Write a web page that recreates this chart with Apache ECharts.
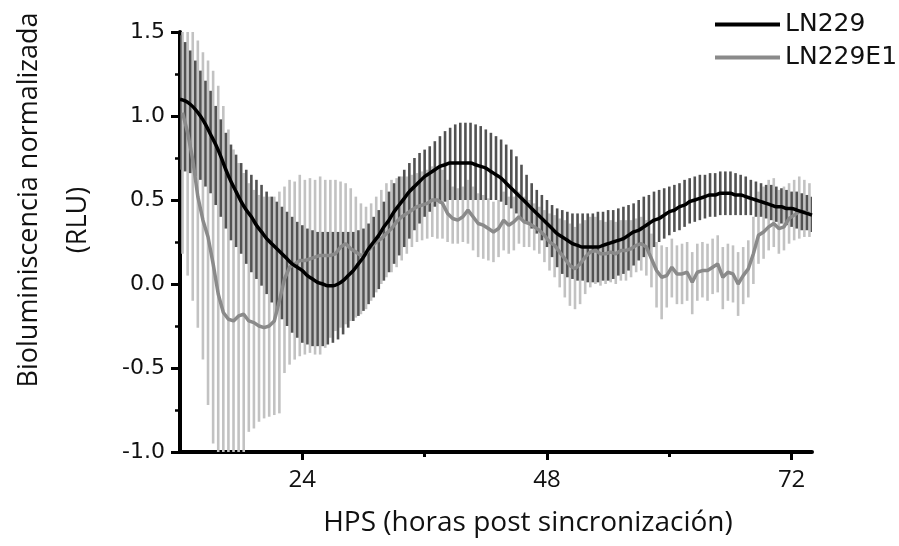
<!DOCTYPE html>
<html><head><meta charset="utf-8">
<script src="https://cdn.jsdelivr.net/npm/echarts@6/dist/echarts.min.js"></script>
<style>html,body{margin:0;padding:0;background:#fff}#c{width:899px;height:546px}</style>
</head><body><div id="c"></div>
<script>
// Time stamps (hours post synchronization)
const hours = [
12,12.5,13,13.5,14,14.5,15,15.5,16,16.5,
17,17.5,18,18.5,19,19.5,20,20.5,21,21.5,
22,22.5,23,23.5,24,24.5,25,25.5,26,26.5,
27,27.5,28,28.5,29,29.5,30,30.5,31,31.5,
32,32.5,33,33.5,34,34.5,35,35.5,36,36.5,
37,37.5,38,38.5,39,39.5,40,40.5,41,41.5,
42,42.5,43,43.5,44,44.5,45,45.5,46,46.5,
47,47.5,48,48.5,49,49.5,50,50.5,51,51.5,
52,52.5,53,53.5,54,54.5,55,55.5,56,56.5,
57,57.5,58,58.5,59,59.5,60,60.5,61,61.5,
62,62.5,63,63.5,64,64.5,65,65.5,66,66.5,
67,67.5,68,68.5,69,69.5,70,70.5,71,71.5,
72,72.5,73,73.5,74];
const e1Hours = [
12.25,12.75,13.25,13.75,14.25,14.75,15.25,15.75,16.25,16.75,
17.25,17.75,18.25,18.75,19.25,19.75,20.25,20.75,21.25,21.75,
22.25,22.75,23.25,23.75,24.25,24.75,25.25,25.75,26.25,26.75,
27.25,27.75,28.25,28.75,29.25,29.75,30.25,30.75,31.25,31.75,
32.25,32.75,33.25,33.75,34.25,34.75,35.25,35.75,36.25,36.75,
37.25,37.75,38.25,38.75,39.25,39.75,40.25,40.75,41.25,41.75,
42.25,42.75,43.25,43.75,44.25,44.75,45.25,45.75,46.25,46.75,
47.25,47.75,48.25,48.75,49.25,49.75,50.25,50.75,51.25,51.75,
52.25,52.75,53.25,53.75,54.25,54.75,55.25,55.75,56.25,56.75,
57.25,57.75,58.25,58.75,59.25,59.75,60.25,60.75,61.25,61.75,
62.25,62.75,63.25,63.75,64.25,64.75,65.25,65.75,66.25,66.75,
67.25,67.75,68.25,68.75,69.25,69.75,70.25,70.75,71.25,71.75,
72.25,72.75,73.25,73.75];

// LN229
const lnMean = [
1.10,1.09,1.07,1.04,1.00,0.95,0.89,0.83,0.76,0.68,
0.61,0.55,0.49,0.44,0.40,0.35,0.31,0.27,0.24,0.21,
0.18,0.15,0.12,0.10,0.08,0.05,0.03,0.01,0.00,-0.01,
-0.01,0.00,0.02,0.05,0.08,0.12,0.16,0.21,0.25,0.29,
0.34,0.38,0.43,0.47,0.51,0.55,0.58,0.61,0.64,0.66,
0.68,0.70,0.71,0.72,0.72,0.72,0.72,0.72,0.71,0.70,
0.69,0.67,0.65,0.63,0.60,0.57,0.54,0.51,0.48,0.45,
0.42,0.39,0.36,0.33,0.30,0.28,0.26,0.24,0.23,0.22,
0.22,0.22,0.22,0.23,0.24,0.25,0.26,0.27,0.29,0.31,
0.32,0.34,0.36,0.38,0.39,0.41,0.43,0.44,0.46,0.47,
0.49,0.50,0.51,0.52,0.53,0.53,0.54,0.54,0.54,0.53,
0.53,0.52,0.51,0.50,0.49,0.48,0.47,0.46,0.46,0.45,
0.45,0.44,0.43,0.42,0.41];
const lnHigh = [
1.48,1.44,1.39,1.33,1.27,1.21,1.15,1.06,0.98,0.90,
0.83,0.77,0.72,0.68,0.65,0.62,0.59,0.55,0.52,0.49,
0.46,0.43,0.40,0.37,0.35,0.33,0.32,0.31,0.31,0.31,
0.31,0.31,0.31,0.31,0.31,0.32,0.33,0.36,0.40,0.44,
0.49,0.55,0.60,0.64,0.68,0.72,0.75,0.78,0.80,0.82,
0.85,0.88,0.91,0.93,0.95,0.96,0.96,0.96,0.95,0.94,
0.92,0.90,0.88,0.86,0.83,0.80,0.76,0.71,0.65,0.60,
0.56,0.53,0.50,0.47,0.45,0.44,0.43,0.42,0.42,0.42,
0.42,0.42,0.43,0.43,0.44,0.44,0.45,0.46,0.47,0.48,
0.50,0.52,0.53,0.55,0.56,0.57,0.58,0.59,0.60,0.62,
0.63,0.64,0.65,0.65,0.66,0.66,0.67,0.67,0.67,0.66,
0.65,0.64,0.62,0.61,0.60,0.59,0.59,0.58,0.57,0.56,
0.55,0.55,0.54,0.53,0.52];
const lnLow = [
0.68,0.67,0.66,0.64,0.62,0.58,0.54,0.47,0.40,0.33,
0.26,0.22,0.18,0.12,0.07,0.03,-0.01,-0.06,-0.11,-0.16,
-0.21,-0.25,-0.29,-0.32,-0.35,-0.36,-0.37,-0.37,-0.37,-0.36,
-0.35,-0.33,-0.30,-0.26,-0.22,-0.19,-0.16,-0.12,-0.08,-0.03,
0.02,0.07,0.12,0.17,0.22,0.27,0.32,0.36,0.40,0.43,
0.46,0.48,0.49,0.50,0.50,0.50,0.50,0.50,0.50,0.50,
0.50,0.50,0.50,0.49,0.47,0.45,0.42,0.39,0.36,0.33,
0.30,0.26,0.22,0.16,0.10,0.06,0.04,0.03,0.02,0.02,
0.01,0.01,0.01,0.02,0.02,0.03,0.05,0.06,0.08,0.11,
0.14,0.16,0.19,0.22,0.25,0.27,0.29,0.31,0.32,0.34,
0.36,0.37,0.38,0.39,0.40,0.40,0.41,0.41,0.41,0.41,
0.41,0.41,0.41,0.40,0.40,0.39,0.38,0.37,0.36,0.35,
0.34,0.33,0.32,0.32,0.31];

// LN229E1
const e1Mean = [
1.02,0.90,0.74,0.52,0.38,0.28,0.12,-0.06,-0.17,-0.21,
-0.22,-0.19,-0.18,-0.22,-0.23,-0.25,-0.26,-0.25,-0.22,-0.10,
0.03,0.10,0.12,0.14,0.14,0.15,0.16,0.17,0.17,0.17,
0.18,0.22,0.24,0.21,0.19,0.17,0.18,0.22,0.25,0.27,
0.30,0.33,0.37,0.40,0.42,0.44,0.46,0.47,0.48,0.50,
0.50,0.48,0.42,0.39,0.38,0.40,0.44,0.40,0.36,0.35,
0.33,0.31,0.33,0.38,0.35,0.37,0.40,0.37,0.36,0.34,
0.32,0.29,0.25,0.23,0.19,0.15,0.11,0.09,0.12,0.16,
0.19,0.20,0.18,0.18,0.19,0.18,0.20,0.20,0.21,0.23,
0.24,0.22,0.15,0.08,0.04,0.05,0.10,0.06,0.06,0.07,
0.01,0.07,0.08,0.08,0.10,0.12,0.04,0.07,0.06,0.00,
0.05,0.09,0.18,0.29,0.31,0.34,0.36,0.33,0.34,0.39,
0.41,0.43,0.43,0.42];
const e1High = [
1.60,1.58,1.52,1.45,1.38,1.33,1.27,1.18,1.06,0.92,
0.80,0.72,0.66,0.60,0.56,0.53,0.52,0.52,0.52,0.55,
0.58,0.62,0.61,0.65,0.62,0.63,0.62,0.64,0.62,0.62,
0.62,0.61,0.60,0.57,0.52,0.48,0.46,0.48,0.52,0.56,
0.60,0.62,0.63,0.64,0.64,0.65,0.66,0.67,0.68,0.70,
0.70,0.68,0.62,0.58,0.57,0.58,0.62,0.58,0.54,0.53,
0.51,0.49,0.50,0.55,0.52,0.52,0.55,0.52,0.50,0.48,
0.46,0.44,0.42,0.41,0.39,0.38,0.36,0.34,0.36,0.38,
0.40,0.40,0.38,0.37,0.38,0.37,0.38,0.38,0.38,0.39,
0.40,0.38,0.30,0.25,0.23,0.22,0.27,0.23,0.24,0.25,
0.19,0.24,0.25,0.24,0.27,0.29,0.22,0.24,0.23,0.19,
0.22,0.26,0.40,0.55,0.58,0.62,0.63,0.56,0.58,0.60,
0.62,0.64,0.62,0.60];
const e1Low = [
0.18,0.05,-0.10,-0.26,-0.45,-0.72,-0.95,-1.10,-1.10,-1.10,
-1.10,-1.10,-1.10,-0.88,-0.86,-0.82,-0.80,-0.79,-0.78,-0.77,
-0.53,-0.48,-0.45,-0.43,-0.42,-0.41,-0.42,-0.42,-0.38,-0.32,
-0.28,-0.26,-0.24,-0.22,-0.20,-0.18,-0.15,-0.10,-0.05,0.00,
0.04,0.07,0.10,0.14,0.18,0.22,0.25,0.26,0.27,0.28,
0.27,0.27,0.25,0.24,0.24,0.25,0.24,0.20,0.16,0.15,
0.14,0.13,0.16,0.20,0.18,0.20,0.24,0.22,0.22,0.20,
0.18,0.13,0.08,0.04,-0.02,-0.08,-0.13,-0.15,-0.12,-0.06,
-0.02,0.00,-0.01,0.00,0.01,0.00,0.02,0.02,0.04,0.07,
0.08,0.05,-0.02,-0.14,-0.21,-0.14,-0.08,-0.12,-0.12,-0.10,
-0.18,-0.10,-0.08,-0.10,-0.06,-0.05,-0.15,-0.10,-0.11,-0.19,
-0.12,-0.08,0.00,0.12,0.15,0.20,0.22,0.18,0.20,0.24,
0.26,0.27,0.28,0.28];

const seriesNames = ['LN229', 'LN229E1'];
const xMajorTicks = [24, 48, 72];
const xMinorTicks = [36, 60];
const yTicks = [-1.0, -0.5, 0.0, 0.5, 1.0, 1.5];
const xTitle = 'HPS (horas post sincronización)';
const yTitle1 = 'Bioluminiscencia normalizada';
const yTitle2 = '(RLU)';

const lnLine = hours.map((h, i) => [h, lnMean[i]]);
const lnBars = hours.map((h, i) => [h, lnLow[i], lnHigh[i]]);
const e1Line = e1Hours.map((h, i) => [h, e1Mean[i]]);
const e1Bars = e1Hours.map((h, i) => [h, e1Low[i], e1High[i]]);

function barRenderer(color, width) {
  return function (params, api) {
    const cs = params.coordSys;
    const x = api.value(0);
    const p1 = api.coord([x, api.value(1)]);
    const p2 = api.coord([x, api.value(2)]);
    const top = cs.y, bot = cs.y + cs.height;
    const y1 = Math.min(Math.max(p1[1], top), bot);
    const y2 = Math.min(Math.max(p2[1], top), bot);
    return { type: 'line', shape: { x1: p1[0], y1: y1, x2: p2[0], y2: y2 },
             style: { stroke: color, lineWidth: width } };
  };
}

const chart = echarts.init(document.getElementById('c'));
chart.setOption({
  animation: false,
  backgroundColor: '#fff',
  grid: { left: 180, right: 87, top: 32, bottom: 94 },
  legend: {
    orient: 'vertical', left: 710, top: 7, itemWidth: 65, itemHeight: 4, itemGap: 8,
    icon: 'rect', data: seriesNames,
    textStyle: { fontFamily: 'DejaVu Sans', fontSize: 25, color: '#111', lineHeight: 25 }
  },
  xAxis: [{
    type: 'value', min: 12, max: 74,
    axisLine: { show: true, onZero: false, lineStyle: { color: '#000', width: 4 } },
    axisTick: { show: true, customValues: xMajorTicks, length: 8, lineStyle: { color: '#000', width: 3 } },
    axisLabel: { customValues: xMajorTicks, fontFamily: 'Open Sans', fontSize: 24, color: '#111', margin: 16 },
    splitLine: { show: false }
  }, {
    type: 'value', min: 12, max: 74, position: 'bottom', offset: 0,
    axisLine: { show: false, onZero: false },
    axisTick: { show: true, customValues: xMinorTicks, length: 5, lineStyle: { color: '#000', width: 3 } },
    axisLabel: { show: false },
    splitLine: { show: false }
  }],
  yAxis: {
    type: 'value', min: -1, max: 1.5, interval: 0.5,
    axisLine: { show: true, onZero: false, lineStyle: { color: '#000', width: 4 } },
    axisTick: { show: true, length: 9, lineStyle: { color: '#000', width: 3 } },
    minorTick: { show: true, splitNumber: 2, length: 5, lineStyle: { color: '#000', width: 2.5 } },
    axisLabel: { customValues: yTicks, formatter: v => Number(v).toFixed(1), fontFamily: 'DejaVu Sans', fontSize: 22, color: '#111', margin: 15 },
    splitLine: { show: false }
  },
  graphic: [
    { type: 'text', x: 29, y: 200, rotation: Math.PI / 2,
      style: { text: yTitle1, fontFamily: 'Open Sans', fontSize: 27, fill: '#111', align: 'center', verticalAlign: 'middle' } },
    { type: 'text', x: 78, y: 220, rotation: Math.PI / 2,
      style: { text: yTitle2, fontFamily: 'Open Sans', fontSize: 27, fill: '#111', align: 'center', verticalAlign: 'middle' } },
    { type: 'text', x: 528, y: 523,
      style: { text: xTitle, fontFamily: 'Open Sans', fontSize: 28, fill: '#111', align: 'center', verticalAlign: 'middle' } }
  ],
  series: [
    { name: 'LN229E1 error', type: 'custom', renderItem: barRenderer('#c2c2c2', 2.6), data: e1Bars,
      encode: { x: 0, y: [1, 2] }, z: 1, silent: true, clip: true },
    { name: 'LN229 error', type: 'custom', renderItem: barRenderer('#525252', 2.6), data: lnBars,
      encode: { x: 0, y: [1, 2] }, z: 2, silent: true, clip: true },
    { name: 'LN229E1', type: 'line', data: e1Line, showSymbol: false, symbol: 'none',
      lineStyle: { color: '#8a8a8a', width: 3.5 }, itemStyle: { color: '#8a8a8a' }, z: 3 },
    { name: 'LN229', type: 'line', data: lnLine, showSymbol: false, symbol: 'none', smooth: 0.3,
      lineStyle: { color: '#000', width: 3.5 }, itemStyle: { color: '#000' }, z: 4 }
  ]
});
</script></body></html>
